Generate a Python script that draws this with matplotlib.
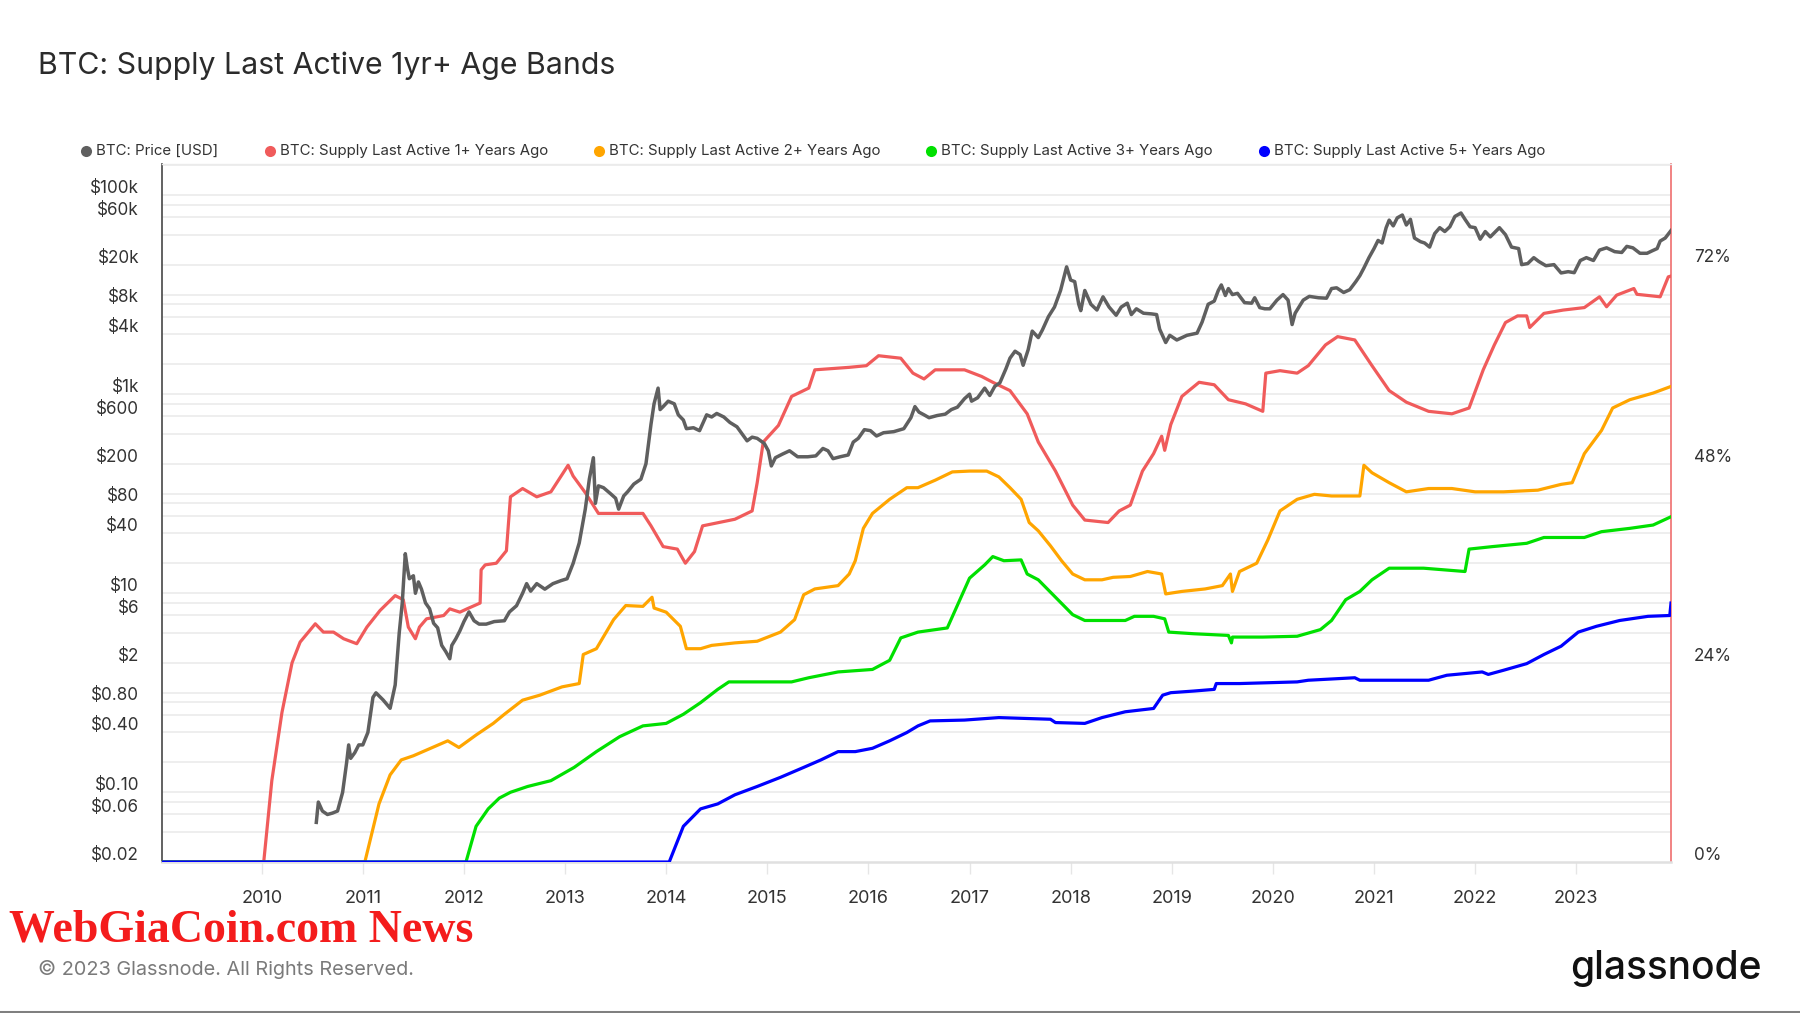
import numpy as np
import matplotlib
matplotlib.use("Agg")
import matplotlib.pyplot as plt
from matplotlib.lines import Line2D
from matplotlib.transforms import ScaledTranslation

plt.rcParams['font.family'] = ['Inter', 'DejaVu Sans']

# ---------------- data (decimal year, value) ----------------
price_usd = [
    (2010.54, 0.05), (2010.56, 0.08), (2010.6, 0.065), (2010.65, 0.06), (2010.7, 0.062), (2010.75, 0.065),
    (2010.8, 0.1), (2010.84, 0.2), (2010.86, 0.3), (2010.88, 0.22), (2010.92, 0.25), (2010.96, 0.3),
    (2011.0, 0.3), (2011.05, 0.4), (2011.1, 0.9), (2011.13, 1.0), (2011.2, 0.85), (2011.27, 0.7),
    (2011.32, 1.2), (2011.36, 4), (2011.39, 8), (2011.42, 25), (2011.44, 18), (2011.46, 14), (2011.5, 15),
    (2011.52, 10), (2011.55, 13), (2011.58, 11), (2011.62, 8), (2011.66, 7), (2011.7, 5), (2011.74, 4.5),
    (2011.78, 3), (2011.82, 2.6), (2011.86, 2.2), (2011.88, 3), (2011.92, 3.5), (2011.96, 4.2), (2012.0, 5.2),
    (2012.05, 6.5), (2012.1, 5.3), (2012.15, 4.9), (2012.22, 4.9), (2012.3, 5.2), (2012.4, 5.3), (2012.45, 6.5),
    (2012.52, 7.5), (2012.58, 10), (2012.62, 12.5), (2012.66, 10.5), (2012.72, 12.5), (2012.8, 11),
    (2012.88, 12.5), (2012.96, 13.4), (2013.02, 14), (2013.08, 20), (2013.14, 32), (2013.2, 70),
    (2013.24, 140), (2013.28, 230), (2013.3, 80), (2013.33, 120), (2013.38, 115), (2013.45, 100),
    (2013.5, 90), (2013.53, 70), (2013.58, 95), (2013.62, 105), (2013.68, 125), (2013.75, 140),
    (2013.8, 200), (2013.85, 500), (2013.88, 800), (2013.92, 1150), (2013.94, 700), (2013.97, 750),
    (2014.02, 850), (2014.08, 800), (2014.12, 620), (2014.17, 550), (2014.2, 450), (2014.27, 460),
    (2014.33, 430), (2014.4, 620), (2014.45, 590), (2014.5, 640), (2014.57, 590), (2014.63, 520),
    (2014.7, 470), (2014.75, 400), (2014.8, 340), (2014.85, 370), (2014.9, 360), (2014.97, 320),
    (2015.01, 270), (2015.04, 190), (2015.08, 230), (2015.15, 250), (2015.22, 270), (2015.3, 235),
    (2015.4, 235), (2015.48, 240), (2015.55, 285), (2015.6, 270), (2015.65, 225), (2015.72, 235),
    (2015.8, 245), (2015.85, 330), (2015.9, 360), (2015.96, 440), (2016.02, 430), (2016.08, 380),
    (2016.15, 410), (2016.25, 420), (2016.35, 450), (2016.42, 580), (2016.46, 750), (2016.5, 660),
    (2016.55, 620), (2016.6, 580), (2016.68, 610), (2016.76, 630), (2016.82, 700), (2016.88, 740),
    (2016.95, 900), (2017.0, 1000), (2017.02, 850), (2017.08, 920), (2017.15, 1150), (2017.2, 970),
    (2017.25, 1200), (2017.3, 1300), (2017.36, 1800), (2017.4, 2300), (2017.45, 2700), (2017.5, 2500),
    (2017.53, 1950), (2017.58, 2800), (2017.62, 4300), (2017.68, 3700), (2017.72, 4400), (2017.78, 6000),
    (2017.84, 7500), (2017.9, 11000), (2017.96, 19000), (2018.0, 14000), (2018.04, 13500), (2018.08, 8000),
    (2018.1, 6900), (2018.14, 11000), (2018.2, 8000), (2018.26, 7000), (2018.32, 9500), (2018.38, 7500),
    (2018.45, 6200), (2018.5, 7500), (2018.56, 8200), (2018.6, 6300), (2018.65, 7200), (2018.72, 6500),
    (2018.8, 6400), (2018.85, 6300), (2018.88, 4500), (2018.94, 3300), (2018.98, 3900), (2019.05, 3500),
    (2019.15, 3900), (2019.25, 4100), (2019.3, 5300), (2019.36, 8000), (2019.42, 8600), (2019.46, 11000),
    (2019.49, 12500), (2019.53, 9800), (2019.56, 11500), (2019.6, 10000), (2019.65, 10300), (2019.72, 8300),
    (2019.79, 8200), (2019.82, 9300), (2019.87, 7400), (2019.92, 7200), (2019.97, 7200), (2020.04, 8800),
    (2020.1, 10000), (2020.15, 8800), (2020.19, 5000), (2020.22, 6500), (2020.3, 8800), (2020.36, 9600),
    (2020.45, 9300), (2020.53, 9200), (2020.58, 11500), (2020.63, 11700), (2020.7, 10500), (2020.76, 11200),
    (2020.82, 13500), (2020.86, 15500), (2020.9, 18500), (2020.95, 23500), (2021.0, 29000), (2021.04, 35000),
    (2021.08, 33000), (2021.12, 47000), (2021.15, 56000), (2021.19, 49000), (2021.23, 59000), (2021.28, 63000),
    (2021.32, 50000), (2021.36, 57000), (2021.4, 37000), (2021.46, 34000), (2021.5, 33000), (2021.55, 30000),
    (2021.6, 41000), (2021.65, 47000), (2021.7, 43000), (2021.75, 48000), (2021.8, 61000), (2021.86, 66000),
    (2021.9, 57000), (2021.95, 48000), (2022.0, 47000), (2022.05, 36000), (2022.1, 43000), (2022.15, 38000),
    (2022.24, 47000), (2022.3, 40000), (2022.36, 30000), (2022.43, 29000), (2022.46, 20000), (2022.52, 20500),
    (2022.58, 23500), (2022.63, 21500), (2022.7, 19500), (2022.78, 20000), (2022.85, 16500), (2022.92, 17000),
    (2022.98, 16600), (2023.04, 22000), (2023.1, 23500), (2023.17, 22000), (2023.23, 28000), (2023.3, 29500),
    (2023.38, 27000), (2023.45, 26500), (2023.5, 30500), (2023.56, 29500), (2023.63, 26000), (2023.7, 26000),
    (2023.75, 27500), (2023.8, 29000), (2023.83, 34500), (2023.88, 37000), (2023.937, 44000),
]

supply_1y = [
    (2009.0, 0), (2010.02, 0), (2010.1, 9.8), (2010.2, 18), (2010.3, 24), (2010.38, 26.5), (2010.53, 28.7),
    (2010.61, 27.7), (2010.71, 27.7), (2010.81, 26.9), (2010.94, 26.3), (2011.04, 28.3), (2011.17, 30.3),
    (2011.32, 32.1), (2011.4, 31.6), (2011.45, 28.3), (2011.52, 26.9), (2011.56, 28.3), (2011.63, 29.3),
    (2011.8, 29.7), (2011.86, 30.5), (2011.96, 30.1), (2012.03, 30.5), (2012.16, 31.2), (2012.17, 35.2),
    (2012.21, 35.8), (2012.32, 36.0), (2012.42, 37.5), (2012.46, 44.0), (2012.58, 45.0), (2012.72, 44.0),
    (2012.86, 44.6), (2013.03, 47.8), (2013.08, 46.5), (2013.2, 44.5), (2013.33, 42.0), (2013.77, 42.0),
    (2013.85, 40.5), (2013.97, 38.0), (2014.11, 37.7), (2014.19, 36.0), (2014.28, 37.4), (2014.36, 40.5),
    (2014.68, 41.3), (2014.85, 42.3), (2014.9, 45.7), (2014.96, 50.6), (2015.11, 52.6), (2015.24, 56.1),
    (2015.41, 57.1), (2015.47, 59.3), (2015.81, 59.6), (2015.98, 59.8), (2016.1, 61.0), (2016.32, 60.7),
    (2016.44, 58.9), (2016.55, 58.2), (2016.66, 59.3), (2016.95, 59.3), (2017.12, 58.5), (2017.23, 57.8),
    (2017.4, 56.8), (2017.57, 54.0), (2017.68, 50.6), (2017.85, 47.1), (2018.02, 43.0), (2018.14, 41.2),
    (2018.37, 40.9), (2018.48, 42.3), (2018.59, 43.0), (2018.71, 47.1), (2018.82, 49.2), (2018.9, 51.3),
    (2018.93, 49.6), (2018.99, 52.7), (2019.1, 56.1), (2019.27, 57.8), (2019.42, 57.5), (2019.56, 55.7),
    (2019.73, 55.2), (2019.9, 54.3), (2019.93, 58.9), (2020.07, 59.2), (2020.24, 58.9), (2020.35, 59.8),
    (2020.52, 62.3), (2020.64, 63.3), (2020.81, 62.9), (2020.98, 59.8), (2021.15, 56.8), (2021.32, 55.4),
    (2021.54, 54.3), (2021.77, 54.0), (2021.94, 54.7), (2022.08, 59.3), (2022.19, 62.3), (2022.3, 65.0),
    (2022.42, 65.8), (2022.51, 65.8), (2022.54, 64.4), (2022.68, 66.1), (2022.87, 66.5), (2023.08, 66.8),
    (2023.23, 68.1), (2023.3, 66.9), (2023.4, 68.3), (2023.57, 69.1), (2023.6, 68.4), (2023.83, 68.1),
    (2023.91, 70.5), (2023.937, 70.6),
]

supply_2y = [
    (2009.0, 0), (2011.02, 0), (2011.16, 7.0), (2011.27, 10.5), (2011.38, 12.3), (2011.5, 12.8),
    (2011.67, 13.7), (2011.84, 14.6), (2011.95, 13.8), (2012.12, 15.3), (2012.29, 16.7), (2012.4, 17.8),
    (2012.58, 19.5), (2012.75, 20.1), (2012.97, 21.1), (2013.14, 21.5), (2013.18, 25.0), (2013.31, 25.7),
    (2013.48, 29.2), (2013.6, 30.9), (2013.77, 30.8), (2013.86, 31.9), (2013.88, 30.6), (2014.0, 30.1),
    (2014.14, 28.4), (2014.2, 25.7), (2014.34, 25.7), (2014.45, 26.1), (2014.68, 26.4), (2014.9, 26.6),
    (2015.13, 27.7), (2015.27, 29.2), (2015.36, 32.2), (2015.47, 32.9), (2015.7, 33.3), (2015.81, 34.7),
    (2015.87, 36.3), (2015.95, 40.2), (2016.04, 42.0), (2016.21, 43.7), (2016.38, 45.1), (2016.49, 45.1),
    (2016.66, 46.0), (2016.83, 47.0), (2017.0, 47.1), (2017.17, 47.1), (2017.29, 46.4), (2017.4, 45.1),
    (2017.51, 43.7), (2017.59, 40.9), (2017.68, 39.9), (2017.8, 38.1), (2017.91, 36.3), (2018.02, 34.7),
    (2018.14, 34.0), (2018.31, 34.0), (2018.42, 34.3), (2018.59, 34.4), (2018.76, 35.0), (2018.9, 34.7),
    (2018.94, 32.3), (2019.1, 32.6), (2019.33, 32.9), (2019.5, 33.3), (2019.58, 34.7), (2019.6, 32.6),
    (2019.67, 35.0), (2019.84, 36.0), (2019.95, 38.8), (2020.07, 42.3), (2020.24, 43.7), (2020.41, 44.3),
    (2020.58, 44.1), (2020.86, 44.1), (2020.9, 47.8), (2020.98, 46.9), (2021.15, 45.7), (2021.32, 44.6),
    (2021.54, 45.0), (2021.77, 45.0), (2022.0, 44.6), (2022.28, 44.6), (2022.62, 44.8), (2022.85, 45.5),
    (2022.96, 45.7), (2023.08, 49.2), (2023.25, 52.0), (2023.36, 54.7), (2023.53, 55.7), (2023.76, 56.5),
    (2023.937, 57.3),
]

supply_3y = [
    (2009.0, 0), (2012.02, 0), (2012.12, 4.3), (2012.24, 6.4), (2012.35, 7.7), (2012.46, 8.4),
    (2012.63, 9.1), (2012.86, 9.8), (2013.09, 11.4), (2013.31, 13.3), (2013.54, 15.1), (2013.77, 16.4),
    (2014.0, 16.7), (2014.17, 17.8), (2014.34, 19.2), (2014.51, 20.8), (2014.62, 21.7), (2014.9, 21.7),
    (2015.24, 21.7), (2015.41, 22.2), (2015.7, 22.9), (2016.04, 23.2), (2016.21, 24.3), (2016.32, 27.0),
    (2016.49, 27.7), (2016.78, 28.2), (2016.89, 31.2), (2017.0, 34.2), (2017.15, 35.8), (2017.23, 36.8),
    (2017.34, 36.3), (2017.51, 36.4), (2017.57, 34.7), (2017.68, 34.0), (2017.85, 31.9), (2018.02, 29.8),
    (2018.14, 29.1), (2018.54, 29.1), (2018.63, 29.6), (2018.82, 29.6), (2018.93, 29.3), (2018.97, 27.7),
    (2019.22, 27.5), (2019.56, 27.3), (2019.59, 26.4), (2019.6, 27.1), (2019.9, 27.1), (2020.24, 27.2),
    (2020.47, 28.0), (2020.58, 29.1), (2020.72, 31.6), (2020.86, 32.6), (2020.98, 34.0), (2021.15, 35.4),
    (2021.49, 35.4), (2021.9, 35.0), (2021.94, 37.7), (2022.17, 38.0), (2022.51, 38.4), (2022.68, 39.1),
    (2023.08, 39.1), (2023.25, 39.8), (2023.53, 40.2), (2023.76, 40.6), (2023.937, 41.6),
]

supply_5y = [
    (2009.0, 0), (2014.03, 0), (2014.17, 4.3), (2014.34, 6.4), (2014.51, 7.0), (2014.68, 8.1),
    (2014.9, 9.1), (2015.13, 10.2), (2015.36, 11.4), (2015.53, 12.3), (2015.7, 13.3), (2015.87, 13.3),
    (2016.04, 13.7), (2016.21, 14.6), (2016.38, 15.6), (2016.49, 16.4), (2016.61, 17.0), (2016.95, 17.1),
    (2017.29, 17.4), (2017.8, 17.2), (2017.85, 16.8), (2018.14, 16.7), (2018.31, 17.4), (2018.54, 18.1),
    (2018.82, 18.5), (2018.91, 20.1), (2018.99, 20.4), (2019.22, 20.6), (2019.42, 20.8), (2019.44, 21.5),
    (2019.67, 21.5), (2020.24, 21.7), (2020.35, 21.9), (2020.81, 22.2), (2020.86, 21.9), (2021.54, 21.9),
    (2021.72, 22.5), (2022.07, 22.9), (2022.13, 22.6), (2022.28, 23.1), (2022.51, 23.9), (2022.68, 25.0),
    (2022.85, 26.0), (2023.02, 27.7), (2023.2, 28.4), (2023.43, 29.1), (2023.71, 29.6), (2023.925, 29.7),
    (2023.937, 31.2),
]

legend_labels = ["BTC: Price [USD]", "BTC: Supply Last Active 1+ Years Ago",
                 "BTC: Supply Last Active 2+ Years Ago", "BTC: Supply Last Active 3+ Years Ago",
                 "BTC: Supply Last Active 5+ Years Ago"]
colors = ["#5f5f5f", "#f05b5b", "#ffa500", "#00e000", "#0000ff"]

year_ticks = list(range(2010, 2024))
price_ticks = [0.02, 0.06, 0.1, 0.4, 0.8, 2, 6, 10, 40, 80, 200, 600, 1000, 4000, 8000, 20000, 60000, 100000]
price_tick_labels = ["$0.02", "$0.06", "$0.10", "$0.40", "$0.80", "$2", "$6", "$10", "$40", "$80",
                     "$200", "$600", "$1k", "$4k", "$8k", "$20k", "$60k", "$100k"]
pct_ticks = [0, 24, 48, 72]

# ---------------- figure ----------------
W, H = 1800, 1013
fig = plt.figure(figsize=(W / 100, H / 100), dpi=100)
L, R, T, B = 162, 1671, 164, 862
pos = [L / W, 1 - B / H, (R - L) / W, (B - T) / H]

XMIN, XMAX = 2009.014, 2023.937
PMIN, PMAX = 0.02, 2.05e5
PCTMAX = 84.1

ax = fig.add_axes(pos)            # grid + left axis
ax.set_yscale('log')
ax.set_xlim(XMIN, XMAX)
ax.set_ylim(PMIN, PMAX)
grid_vals = [m * 10.0 ** e for e in range(-2, 6) for m in (1, 2, 4, 6, 8)]
for g in grid_vals:
    if PMIN < g < PMAX:
        ax.axhline(g, color="#e9e9e9", lw=1.1, zorder=0)
ax.set_yticks(price_ticks)
ax.set_yticklabels(price_tick_labels)
ax.yaxis.set_minor_locator(matplotlib.ticker.NullLocator())
ax.tick_params(axis='y', length=0, pad=16.5, labelsize=12.3, labelcolor="#333333")
ax.set_xticks(year_ticks)
ax.set_xticklabels([str(y) for y in year_ticks])
ax.tick_params(axis='x', length=8.6, width=1, color="#e6e6e6", pad=11.7, labelsize=13, labelcolor="#333333")
ax.spines['top'].set_color("#ebebeb")
ax.spines['top'].set_linewidth(1)
ax.spines['left'].set_color("#555555")
ax.spines['left'].set_linewidth(1.3)
ax.spines['bottom'].set_color("#e0e0e0")
ax.spines['bottom'].set_linewidth(1.8)
ax.spines['right'].set_color("#f07a7a")
ax.spines['right'].set_linewidth(1.3)

ax2 = ax.twinx()                  # supply, right axis
ax2.set_ylim(0, PCTMAX)
ax2.set_xlim(XMIN, XMAX)
ax2.set_yticks(pct_ticks)
ax2.set_yticklabels([f"{p}%" for p in pct_ticks])
ax2.tick_params(axis='y', length=0, pad=16.5, labelsize=12.3, labelcolor="#333333")
for s in ax2.spines.values():
    s.set_visible(False)

for data, c in zip([supply_1y, supply_2y, supply_3y, supply_5y], colors[1:]):
    xs, ys = zip(*data)
    ax2.plot(xs, ys, color=c, lw=2.3, solid_joinstyle='round')

ax3 = ax.twinx()                  # price line on top
ax3.set_yscale('log')
ax3.set_ylim(PMIN, PMAX)
ax3.set_xlim(XMIN, XMAX)
ax3.set_yticks([])
ax3.yaxis.set_minor_locator(matplotlib.ticker.NullLocator())
for s in ax3.spines.values():
    s.set_visible(False)
px, py = zip(*price_usd)
ax3.plot(px, py, color=colors[0], lw=2.5, solid_joinstyle='round')

# y labels sit above their gridline
off = ScaledTranslation(0, 8.6 / 100, fig.dpi_scale_trans)
for lab in ax.get_yticklabels() + ax2.get_yticklabels():
    lab.set_transform(lab.get_transform() + off)

# ---------------- texts ----------------
fig.text(38 / W, 1 - 66 / H, "BTC: Supply Last Active 1yr+ Age Bands", fontsize=21.8,
         color="#2b2b2b", va='center', ha='left')

leg_dot_x = [86, 270, 599, 931, 1264]
leg_y = 1 - 151 / H
for xd, lab, c in zip(leg_dot_x, legend_labels, colors):
    fig.add_artist(Line2D([xd / W], [leg_y], marker='o', markersize=8, color=c,
                          markeredgewidth=0, transform=fig.transFigure))
    fig.text((xd + 10) / W, leg_y, lab, fontsize=10.8, color="#333333", va='center', ha='left')

fig.text(9 / W, 1 - 930 / H, "WebGiaCoin.com News", fontsize=33, fontweight='bold',
         family=['Liberation Serif', 'DejaVu Serif'], color="#f41c1c", va='center', ha='left')
fig.text(38 / W, 1 - 969 / H, "\u00a9 2023 Glassnode. All Rights Reserved.", fontsize=14.3,
         color="#7a7a7a", va='center', ha='left')
fig.text(1762 / W, 1 - 968 / H, "glassnode", fontsize=28, fontweight='medium',
         color="#111111", va='center', ha='right')

fig.add_artist(Line2D([0, 1], [1.5 / H, 1.5 / H], color="#808080", lw=2.2, transform=fig.transFigure))

fig.savefig("out.png", dpi=100, facecolor="white")
